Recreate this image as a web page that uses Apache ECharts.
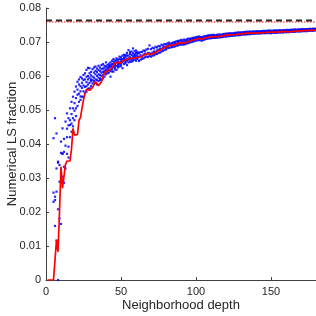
<!DOCTYPE html>
<html><head><meta charset="utf-8">
<script src="https://cdn.jsdelivr.net/npm/echarts@6/dist/echarts.min.js"></script>
<style>html,body{margin:0;padding:0;background:#fff}#c{width:316px;height:316px}</style>
</head><body><div id="c"></div>
<script>
// Tick labels / axis ranges
const xTicks = [0, 50, 100, 150];
const yTicks = [0, 0.01, 0.02, 0.03, 0.04, 0.05, 0.06, 0.07, 0.08];
const refBlack = 0.0763;
const refRed = 0.0759;

// Red line (mean curve): depth, value
const redX = [1,2,3,4,5,6,7,8,9,10,11,12,13,14,15,16,17,18,19,20,21,22,23,24,25,26,27,28,29,30,31,32,33,34,35,36,37,38,39,40,41,42,43,44,45,46,47,48,49,50,51,52,53,54,55,56,57,58,59,60,62,64,66,68,70,72,74,76,78,80,82,84,86,88,90,92,94,96,98,100,102,104,106,108,110,112,115,118,120,123,126,130,134,138,142,146,150,155,158,162,166,170,175,180];
const redY = [0,0,0,0,0,0,0.0118,0.0083,0.0200,0.0333,0.0270,0.0265,0.0340,0.0350,0.0352,0.0350,0.0385,0.0446,0.0426,0.0424,0.0428,0.0470,0.0478,0.0505,0.0530,0.0548,0.0561,0.0556,0.0558,0.0561,0.0566,0.0575,0.0583,0.0578,0.0571,0.0574,0.0583,0.0598,0.0610,0.0613,0.0615,0.0618,0.0620,0.0623,0.0630,0.0638,0.0643,0.0640,0.0635,0.0638,0.0644,0.0645,0.0647,0.0650,0.0651,0.0652,0.0652,0.0651,0.0653,0.0655,0.0655,0.0658,0.0663,0.0666,0.0663,0.0667,0.0672,0.0676,0.0681,0.0685,0.0690,0.0690,0.0692,0.0696,0.0698,0.0697,0.0700,0.0703,0.0706,0.0708,0.0711,0.0708,0.0712,0.0714,0.0715,0.0716,0.0716,0.0718,0.0720,0.0721,0.0722,0.0724,0.0726,0.0726,0.0727,0.0728,0.0729,0.0729,0.0731,0.0730,0.0732,0.0733,0.0734,0.0735];

// Blue scatter samples: depth -> values
const blueDepth = [5,6,7,8,9,10,11,12,13,14,15,16,17,18,19,20,21,22,23,24,25,26,27,28,29,30,31,32,33,34,35,36,37,38,39,40,41,42,43,44,45,46,47,48,49,50,51,52,53,54,55,56,57,58,59,60,61,
62,63,64,65,66,67,68,69,70,71,72,73,74,75,76,77,78,79,80,81,82,83,84,85,86,87,88,89,90,91,92,93,94,95,96,97,98,99,100,101,102,103,104,105,106,107,108,109,110,111,112,113,114,115,116,117,118,119,120,121,122,123,124,125,126,127,128,129,130,131,132,133,134,135,136,137,138,139,140,141,142,143,144,145,146,147,148,149,150,151,152,153,154,155,156,157,158,159,160,161,162,163,164,165,166,167,168,169,170,171,172,173,174,175,176,177,178,179,180];
const blueVals = [
[.0257,.0230,.0417],[.0245,.0235,.0476,.0159],[.0116,.0328,.0431,.0260],[.0345,.0348,.0208,.0000],[.0338,.0181,.0289],
[.0165,.0374,.0314,.0407],[.0371,.0304,.0446,.0372],[.0333,.0286,.0377,.0415],[.0466,.0328,.0395],[.0490,.0371,.0420,.0445],
[.0360,.0476,.0455,.0392],[.0505,.0456,.0470,.0420],[.0524,.0436,.0488,.0460],[.0476,.0539,.0505,.0452],[.0554,.0520,.0470,.0498],
[.0505,.0569,.0535,.0482],[.0583,.0545,.0512,.0560],[.0524,.0575,.0548,.0590],[.0530,.0570,.0555,.0597,.0540],[.0593,.0539,.0565,.0580],
[.0603,.0539,.0572,.0555,.0588],[.0608,.0568,.0590,.0550],[.0618,.0554,.0582,.0598,.0570],[.0624,.0575,.0600,.0562,.0590],[.0623,.0564,.0595,.0608,.0580],
[.0612,.0570,.0590,.0602,.0585],[.0620,.0578,.0598,.0588],[.0578,.0610,.0595,.0625,.0585],[.0605,.0590,.0615,.0580,.0628],[.0588,.0612,.0600,.0622,.0575],
[.0595,.0618,.0605,.0630,.0585],[.0593,.0614,.0603,.0625,.0588],[.0600,.0620,.0610,.0632,.0590],[.0603,.0622,.0612,.0635,.0593],[.0623,.0608,.0615,.0630,.0598],
[.0605,.0618,.0628,.0640,.0612],[.0608,.0620,.0632,.0614,.0625],[.0610,.0625,.0636,.0618,.0630],[.0627,.0598,.0615,.0640,.0632],[.0613,.0628,.0645,.0620,.0635],
[.0642,.0613,.0625,.0635,.0650],[.0620,.0632,.0645,.0638,.0626],[.0647,.0618,.0630,.0640,.0652],[.0625,.0636,.0648,.0642,.0630],[.0657,.0628,.0640,.0650,.0635],
[.0630,.0642,.0655,.0648,.0636],[.0623,.0640,.0650,.0660,.0645],[.0635,.0645,.0655,.0650,.0662],[.0662,.0638,.0648,.0656,.0642],[.0632,.0650,.0660,.0645,.0668],
[.0676,.0640,.0652,.0660,.0648],[.0642,.0655,.0665,.0650,.0670],[.0642,.0652,.0662,.0648,.0672],[.0667,.0645,.0658,.0652,.0681],[.0648,.0656,.0664,.0660,.0673],
[.0652,.0660,.0668,.0645,.0675],[.0671,.0650,.0658,.0665],
[.0644,.0656,.0668],[.0648,.0661,.0670],[.0650,.0657,.0671],[.0652,.0663,.0675],[.0655,.0666,.0674],[.0657,.0664,.0678],[.0656,.0668,.0680],[.0659,.0667,.0690],[.0657,.0665,.0679],[.0660,.0669,.0683],
[.0661,.0672,.0681],[.0664,.0671,.0686],[.0665,.0675,.0684],[.0668,.0677,.0688],[.0669,.0679,.0687],[.0672,.0680,.0692],[.0674,.0683,.0690],[.0677,.0686,.0694],[.0678,.0684,.0693],[.0682,.0689,.0696],
[.0683,.0691,.0698],[.0684,.0692,.0695],[.0685,.0689,.0697],[.0686,.0693,.0699],[.0687,.0694,.0700],[.0689,.0695,.0702],[.0690,.0697,.0703],[.0692,.0699,.0704],[.0693,.0698,.0706],[.0692,.0700,.0705],
[.0693,.0699,.0707],[.0694,.0701,.0706],[.0696,.0702,.0708],[.0697,.0703,.0710],[.0699,.0705,.0709],[.0700,.0706,.0711],[.0701,.0707,.0712],[.0703,.0708,.0713],[.0704,.0709,.0714],[.0705,.0711,.0715],
[.0706,.0712,.0716],[.0705,.0711,.0715],[.0704,.0710,.0714],[.0706,.0711,.0716],[.0708,.0713,.0717],[.0709,.0714,.0718],[.0710,.0715,.0719],[.0711,.0716,.0720],[.0711,.0716,.0720],[.0712,.0717,.0721],
[.0712,.0717,.0721],[.0712,.0716,.0720],[.0713,.0717,.0721],[.0713,.0717,.0722],[.0714,.0718,.0722],[.0714,.0718,.0721],[.0715,.0719,.0723],[.0716,.0720,.0724],[.0716,.0721,.0724],[.0717,.0721,.0725],
[.0717,.0722,.0725],[.0718,.0722,.0726],[.0718,.0722,.0725],[.0719,.0723,.0726],[.0719,.0723,.0727],[.0720,.0724,.0727],[.0720,.0724,.0728],[.0720,.0725,.0728],[.0721,.0725,.0728],[.0722,.0725,.0729],
[.0722,.0726,.0729],[.0722,.0726,.0730],[.0723,.0727,.0730],[.0723,.0727,.0730],[.0723,.0727,.0731],[.0724,.0727,.0730],[.0724,.0727,.0731],[.0724,.0728,.0731],[.0725,.0728,.0731],[.0725,.0728,.0732],
[.0725,.0728,.0731],[.0725,.0729,.0732],[.0726,.0729,.0732],[.0726,.0729,.0733],[.0726,.0729,.0732],[.0726,.0730,.0733],[.0727,.0730,.0733],[.0726,.0730,.0734],[.0726,.0729,.0733],[.0727,.0730,.0733],
[.0727,.0731,.0734],[.0727,.0730,.0734],[.0727,.0731,.0734],[.0728,.0731,.0734],[.0728,.0731,.0735],[.0728,.0732,.0734],[.0728,.0731,.0735],[.0729,.0732,.0735],[.0729,.0732,.0735],[.0729,.0732,.0736],
[.0729,.0733,.0735],[.0730,.0733,.0736],[.0730,.0733,.0736],[.0730,.0733,.0736],[.0730,.0734,.0737],[.0731,.0734,.0736],[.0731,.0734,.0737],[.0731,.0734,.0737],[.0731,.0735,.0737],[.0732,.0735,.0738],
[.0732,.0735,.0737],[.0732,.0735,.0738],[.0732,.0736,.0738],[.0733,.0736,.0738],[.0733,.0736,.0739],[.0733,.0736,.0738],[.0733,.0737,.0739],[.0734,.0737,.0739],[.0734,.0737,.0739]
];

const blueData = [];
blueDepth.forEach((d, i) => (blueVals[i] || []).forEach(v => blueData.push([d, v])));
const redData = redX.map((x, i) => [x, redY[i]]);

const FONT = 'Liberation Sans, Arial, sans-serif';
const TXT = '#262626';
const chart = echarts.init(document.getElementById('c'), null, {renderer: 'canvas'});
chart.setOption({
  animation: false,
  grid: {left: 46, right: 0, top: 8, bottom: 36, containLabel: false, outerBoundsMode: 'none'},
  xAxis: {
    type: 'value', min: 0, max: 180, interval: 50,
    name: 'Neighborhood depth', nameLocation: 'middle', nameGap: 19, nameMoveOverlap: false,
    nameTextStyle: {fontFamily: FONT, fontSize: 13, color: TXT},
    axisLine: {lineStyle: {color: '#404040', width: 1}},
    axisTick: {inside: true, length: 3, lineStyle: {color: '#404040'}},
    axisLabel: {fontFamily: FONT, fontSize: 11, color: TXT, margin: 6, showMaxLabel: false},
    splitLine: {show: false}
  },
  yAxis: {
    type: 'value', min: 0, max: 0.08, interval: 0.01,
    name: 'Numerical LS fraction', nameLocation: 'middle', nameGap: 27, nameMoveOverlap: false,
    nameTextStyle: {fontFamily: FONT, fontSize: 13, color: TXT},
    axisLine: {show: true, lineStyle: {color: '#404040', width: 1}},
    axisTick: {show: true, inside: true, length: 3, lineStyle: {color: '#404040'}},
    axisLabel: {fontFamily: FONT, fontSize: 11, color: TXT, margin: 5,
      formatter: v => (Math.abs(v) < 1e-9 ? '0' : v.toFixed(2))},
    splitLine: {show: false}
  },
  series: [
    {type: 'scatter', data: blueData, symbol: 'rect', symbolSize: 2.2,
     itemStyle: {color: '#0000ff', opacity: 0.85}, z: 2, silent: true},
    {type: 'line', data: redData, showSymbol: false, symbol: 'none',
     lineStyle: {color: '#ff0000', width: 1.7}, z: 3, silent: true},
    {type: 'line', data: [[0, refBlack], [180, refBlack]], symbol: 'none',
     lineStyle: {color: '#222222', width: 2, type: [6, 4]}, z: 4, silent: true},
    {type: 'line', data: [[0, refRed], [180, refRed]], symbol: 'none',
     lineStyle: {color: '#ff0000', width: 1, type: [1.5, 1.5]}, z: 4, silent: true}
  ]
});
</script></body></html>
